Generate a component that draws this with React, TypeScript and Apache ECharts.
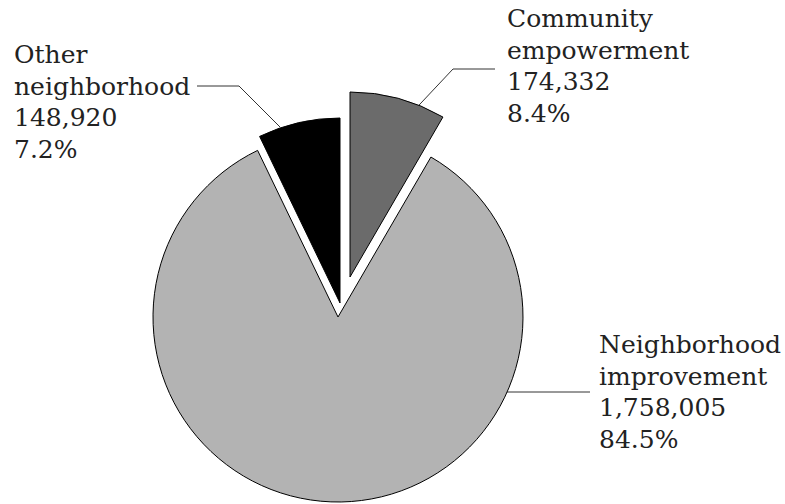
import React, { useEffect, useRef } from 'react';
import * as echarts from 'echarts';

const categories = ['Community empowerment', 'Neighborhood improvement', 'Other neighborhood'];
const values = [174332, 1758005, 148920];
const colors = ['#6b6b6b', '#b3b3b3', '#000000'];

// exploded centre of each slice (px)
const sliceCenters = [
  [350, 277],
  [338, 317],
  [340, 303],
];
// label top-left positions
const labelPos = [
  [507, 3],
  [599, 329],
  [14, 39],
];
// leader line points
const leaderLines = [
  [[405, 120], [453, 69], [495, 69]],
  [[494, 392], [540, 392], [590, 392]],
  [[280, 127], [239, 86], [197, 86]],
];

const FONT = 'DejaVu Serif';

export default function App() {
  const ref = useRef<HTMLDivElement>(null);
  useEffect(() => {
    if (!ref.current) return;
    const chart = echarts.init(ref.current, undefined, { renderer: 'svg' });
    const total = values.reduce((a, b) => a + b, 0);
    const series = categories.map((_, i) => ({
      type: 'pie',
      silent: true,
      animation: false,
      center: sliceCenters[i],
      radius: 185,
      startAngle: 90,
      clockwise: true,
      avoidLabelOverlap: false,
      emphasis: { disabled: true },
      label: {
        show: true,
        position: 'outside',
        fontFamily: FONT,
        fontSize: 25,
        lineHeight: 31.5,
        color: '#222',
        align: 'left',
        formatter: (p: any) =>
          p.name.replace(' ', '\n') +
          '\n' +
          Number(p.value).toLocaleString('en-US') +
          '\n' +
          ((p.value / total) * 100).toFixed(1) +
          '%',
      },
      labelLine: { show: true, lineStyle: { color: '#333', width: 1 } },
      labelLayout: () => ({
        x: labelPos[i][0],
        y: labelPos[i][1],
        align: 'left',
        verticalAlign: 'top',
        labelLinePoints: leaderLines[i],
      }),
      data: categories.map((name, j) => ({
        name,
        value: values[j],
        itemStyle:
          j === i
            ? { color: colors[j], borderColor: '#000', borderWidth: 1 }
            : { color: 'rgba(0,0,0,0)', borderWidth: 0 },
        label: { show: j === i },
        labelLine: { show: j === i },
      })),
    }));
    chart.setOption({
      animation: false,
      backgroundColor: '#fff',
      series,
    } as any);
    return () => chart.dispose();
  }, []);
  return (
    <div
      ref={ref}
      style={{ position: 'fixed', left: 0, top: 0, width: 785, height: 504 }}
    />
  );
}
